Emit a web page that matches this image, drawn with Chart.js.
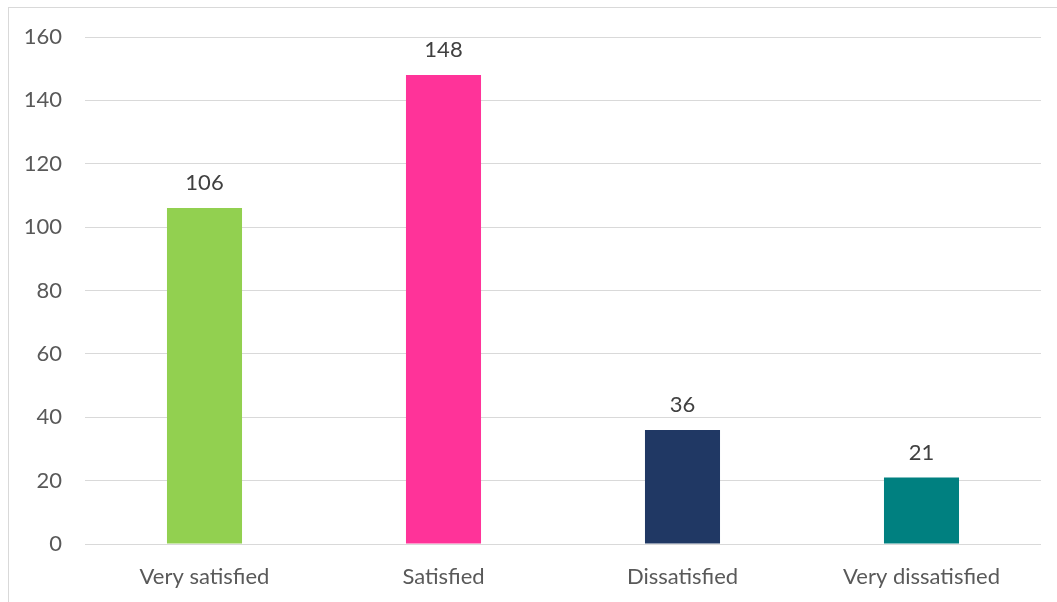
<!DOCTYPE html>
<html>
<head>
<meta charset="utf-8">
<script src="https://cdn.jsdelivr.net/npm/chart.js@4/dist/chart.umd.min.js"></script>
<style>
  html, body { margin: 0; padding: 0; background: #fff; }
  #wrap { position: relative; width: 1057px; height: 602px; overflow: hidden; }
  #frame { position: absolute; left: 8px; top: 7px; width: 1100px; height: 700px; border: 1px solid #d9d9d9; box-sizing: border-box; }
  canvas { position: absolute; left: 0; top: 0; }
</style>
</head>
<body>
<div id="wrap">
  <div id="frame"></div>
  <canvas id="chart" width="1057" height="602"></canvas>
</div>
<script>
// survey answers: satisfaction counts
const categories = ['Very satisfied', 'Satisfied', 'Dissatisfied', 'Very dissatisfied'];
const counts = [106, 148, 36, 21];
const barColors = ['#92D050', '#FF3399', '#203864', '#008080'];
const yTicks = [0, 20, 40, 60, 80, 100, 120, 140, 160];

const FONT = 'Lato, "Open Sans", sans-serif';

// value labels above each bar
const valueLabels = {
  id: 'valueLabels',
  afterDatasetsDraw(chart) {
    const { ctx } = chart;
    const meta = chart.getDatasetMeta(0);
    ctx.save();
    ctx.font = '22px ' + FONT;
    ctx.fillStyle = '#404040';
    ctx.textAlign = 'center';
    ctx.textBaseline = 'middle';
    meta.data.forEach((bar, i) => {
      ctx.fillText(String(counts[i]), bar.x, bar.y - 25);
    });
    ctx.restore();
  },
};

new Chart(document.getElementById('chart'), {
  type: 'bar',
  data: {
    labels: categories,
    datasets: [{
      data: counts,
      backgroundColor: barColors,
      borderWidth: 0,
      categoryPercentage: 1,
      barPercentage: 0.314,
    }],
  },
  options: {
    responsive: false,
    animation: false,
    layout: { padding: { top: 37, right: 16, left: 0, bottom: 0 } },
    plugins: { legend: { display: false }, tooltip: { enabled: false } },
    scales: {
      x: {
        grid: { display: false },
        border: { display: false },
        ticks: { color: '#595959', font: { family: FONT, size: 22 }, padding: 12, maxRotation: 0 },
        afterFit: (s) => { s.height = 58; },
      },
      y: {
        min: 0,
        max: 160,
        afterBuildTicks: (s) => { s.ticks = yTicks.map((v) => ({ value: v })); },
        grid: { color: '#d9d9d9', lineWidth: 1, drawTicks: false },
        border: { display: false },
        ticks: { color: '#595959', font: { family: FONT, size: 22 }, padding: 23 },
        afterFit: (s) => { s.width = 85; },
      },
    },
  },
  plugins: [valueLabels],
});
</script>
</body>
</html>
